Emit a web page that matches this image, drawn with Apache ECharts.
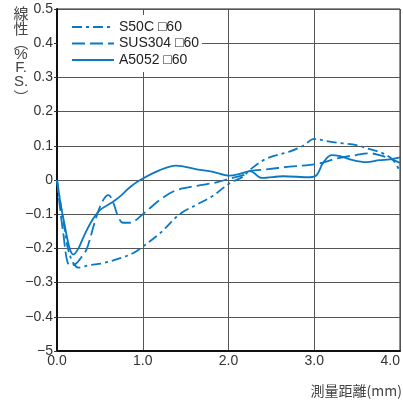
<!DOCTYPE html>
<html>
<head>
<meta charset="utf-8">
<script src="https://cdn.jsdelivr.net/npm/echarts@6/dist/echarts.min.js"></script>
<style>
  html, body { margin: 0; padding: 0; background: #fff; }
  #chart { width: 403px; height: 400px; }
</style>
</head>
<body>
<div id="chart"></div>
<script>
// Linearity error (%F.S.) against measuring distance (mm) for three target materials
const seriesNames = ['S50C \u25A160', 'SUS304 \u25A160', 'A5052 \u25A160'];

const s50c = [
  [0, 0], [0.08, -0.13], [0.15, -0.22], [0.25, -0.256], [0.38, -0.249], [0.54, -0.243],
  [0.77, -0.226], [0.9, -0.212], [1.0, -0.195], [1.2, -0.156], [1.43, -0.1], [1.63, -0.072],
  [1.82, -0.046], [2.01, -0.01], [2.17, 0.01], [2.25, 0.03], [2.44, 0.062], [2.71, 0.083],
  [2.87, 0.1], [3.0, 0.12], [3.18, 0.112], [3.34, 0.107], [3.49, 0.102], [3.65, 0.09],
  [3.8, 0.078], [3.92, 0.058], [4.0, 0.024]
];

const sus304 = [
  [0, 0], [0.07, -0.15], [0.15, -0.25], [0.22, -0.245], [0.3, -0.22], [0.35, -0.2],
  [0.46, -0.107], [0.54, -0.058], [0.6, -0.044], [0.65, -0.062], [0.71, -0.105], [0.77, -0.125],
  [0.85, -0.125], [1.0, -0.1], [1.2, -0.058], [1.38, -0.031], [1.63, -0.017], [1.86, -0.007],
  [2.01, 0.004], [2.17, 0.014], [2.25, 0.026], [2.44, 0.031], [2.71, 0.039], [2.95, 0.044],
  [3.1, 0.051], [3.26, 0.063], [3.49, 0.073], [3.65, 0.078], [3.76, 0.073], [3.88, 0.063],
  [4.0, 0.05]
];

const a5052 = [
  [0, 0], [0.08, -0.12], [0.19, -0.218], [0.25, -0.2], [0.31, -0.166], [0.4, -0.122],
  [0.5, -0.088], [0.64, -0.066], [0.75, -0.045], [0.85, -0.021], [0.97, 0], [1.2, 0.029],
  [1.39, 0.042], [1.63, 0.031], [1.82, 0.024], [2.01, 0.013], [2.13, 0.018], [2.25, 0.026],
  [2.39, 0.006], [2.64, 0.011], [2.95, 0.008], [3.03, 0.015], [3.1, 0.049], [3.2, 0.073],
  [3.3, 0.07], [3.45, 0.058], [3.61, 0.052], [3.76, 0.058], [3.88, 0.06], [4.0, 0.066]
];

const xTickLabels = ['0.0', '1.0', '2.0', '3.0', '4.0'];
const yTickLabels = ['\u22125', '\u22120.4', '\u22120.3', '\u22120.2', '\u22120.1', '0', '0.1', '0.2', '0.3', '0.4', '0.5'];
const yTitleChars = ['線', '性', '︵', '%', 'F.', 'S.', '︶'];
const xTitle = '測量距離(mm)';

const lineColor = '#0a78c4';
const latin = '"Liberation Sans", Arial, "Noto Sans CJK JP", sans-serif';
const cjk = '"Noto Sans CJK JP", "Liberation Sans", sans-serif';

const chart = echarts.init(document.getElementById('chart'), null, { renderer: 'canvas' });

// vertical axis title, one glyph per line
const yTitleY = [13, 28, 42, 55, 68, 82, 97];
const graphics = yTitleChars.map((ch, i) => ({
  type: 'text',
  x: 21, y: yTitleY[i],
  style: {
    text: ch, fill: '#444', font: '15px ' + (/[A-Z.%]/.test(ch) ? latin : cjk),
    textAlign: 'center', textVerticalAlign: 'middle'
  }
}));
graphics.push({
  type: 'text', x: 402, y: 391,
  style: { text: xTitle, fill: '#444', font: '14px ' + cjk, textAlign: 'right', textVerticalAlign: 'middle' }
});

function mkSeries(name, data, dash) {
  return {
    name, type: 'line', data, symbol: 'none', showSymbol: false, smooth: 0.35,
    lineStyle: { color: lineColor, width: 1.8, type: dash },
    itemStyle: { color: lineColor },
    z: 3
  };
}

chart.setOption({
  animation: false,
  backgroundColor: '#fff',
  grid: {
    left: 57, right: 3, top: 9, bottom: 49,
    outerBoundsMode: 'none', containLabel: false,
    show: true, borderColor: '#222', borderWidth: 1
  },
  legend: {
    orient: 'vertical', left: 58, top: 15,
    padding: [5, 3, 5, 13],
    backgroundColor: '#fff',
    itemWidth: 42, itemHeight: 14, itemGap: 2.5, itemTextGap: 7,
    itemStyle: { opacity: 0, borderWidth: 0 },
    lineStyle: { width: 2 },
    textStyle: { fontFamily: latin, fontSize: 14, color: '#222' },
    data: seriesNames,
    z: 10
  },
  xAxis: {
    type: 'value', min: 0, max: 4, interval: 1,
    axisLine: { show: true, onZero: false, lineStyle: { color: '#111', width: 2 } },
    axisTick: { show: false },
    axisLabel: {
      fontFamily: latin, fontSize: 14, color: '#333', margin: 3,
      alignMaxLabel: 'right',
      formatter: v => xTickLabels[Math.round(v)]
    },
    splitLine: { show: true, lineStyle: { color: '#555', width: 1 } }
  },
  yAxis: {
    type: 'value', min: -0.5, max: 0.5, interval: 0.1,
    axisLine: { show: true, onZero: false, lineStyle: { color: '#111', width: 2 } },
    axisTick: { show: true, length: 3, lineStyle: { color: '#333', width: 1 } },
    axisLabel: {
      fontFamily: latin, fontSize: 14, color: '#333', margin: 4,
      formatter: v => yTickLabels[Math.round(v * 10) + 5]
    },
    splitLine: { show: true, lineStyle: { color: '#555', width: 1 } }
  },
  graphic: graphics,
  series: [
    mkSeries(seriesNames[0], s50c, [10, 4, 3, 4]),
    mkSeries(seriesNames[1], sus304, [13, 5]),
    mkSeries(seriesNames[2], a5052, 'solid')
  ]
});
</script>
</body>
</html>
